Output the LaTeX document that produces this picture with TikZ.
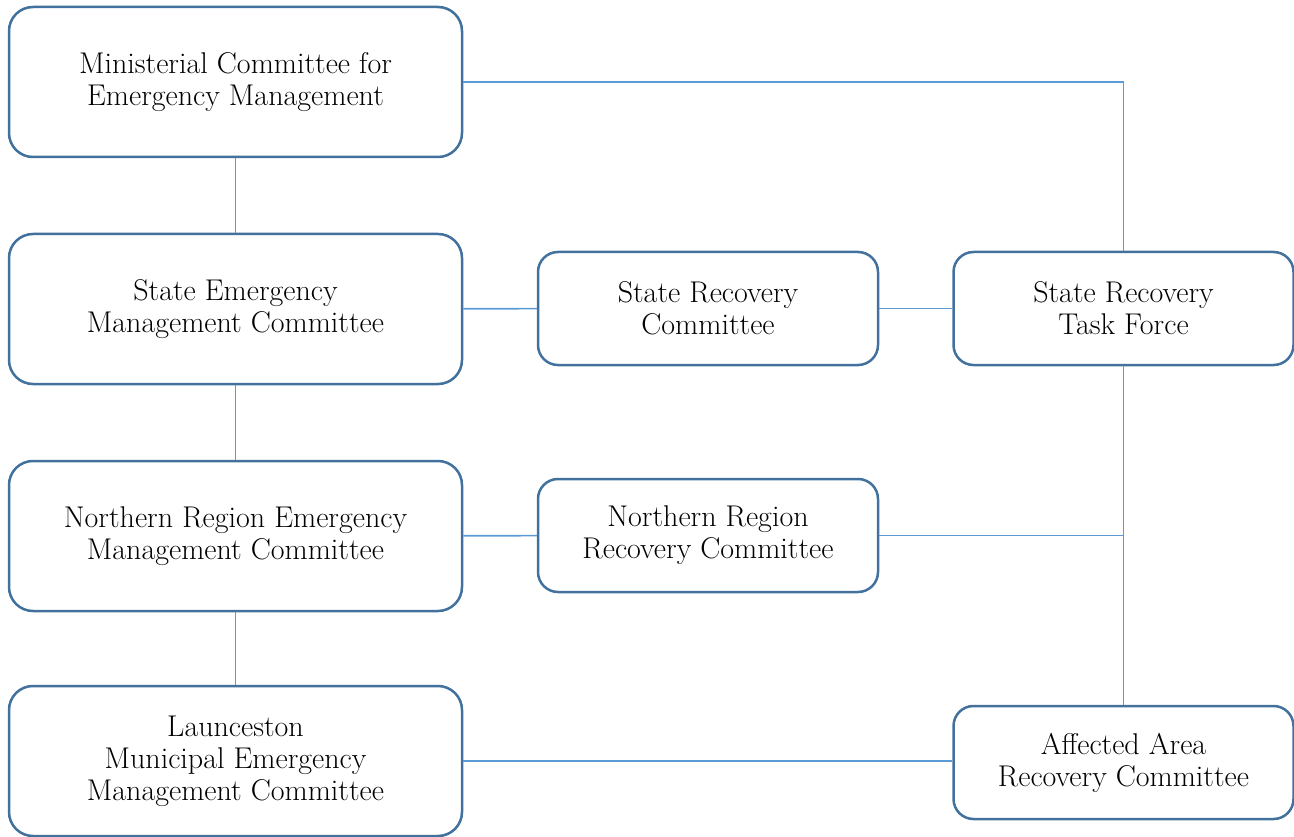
\documentclass[tikz,border=0pt]{standalone}
\usetikzlibrary{positioning}
\definecolor{boxblue}{HTML}{41719C}
\definecolor{lineblue}{HTML}{5B9BD5}
\begin{document}
\begin{tikzpicture}[x=1pt,y=-1pt,every node/.style={draw=boxblue,line width=2.5pt,rounded corners=24pt,align=center,inner sep=0pt,font=\fontsize{30}{32}\selectfont}]
        \tikzset{edge/.style = {draw=lineblue,line width=1.6pt}}
        \tikzset{big/.style = {minimum width=453pt,minimum height=150pt}}
        \tikzset{small/.style = {minimum width=340pt,minimum height=113pt,rounded corners=20pt}}
        \useasboundingbox (0,0) rectangle (1294,837);
        \node[big] (MC) at (235.5,82) {Ministerial Committee for\\Emergency Management};
        \node[big] (SEMC) at (235.5,309) {State Emergency\\Management Committee};
        \node[big] (NREMC) at (235.5,536) {Northern Region Emergency\\Management Committee};
        \node[big] (LMEMC) at (235.5,761) {Launceston\\Municipal Emergency\\Management Committee};
        
        \node[small] (SRC) at (708,308.5) {State Recovery\\Committee};
        \node[small] (SRTF) at (1123.5,308.5) {State Recovery\\Task Force};
        \node[small] (NRRC) at (708,535.5) {Northern Region\\Recovery Committee};
        \node[small] (AARC) at (1123.5,762.5) {Affected Area\\Recovery Committee};
        
        \draw[edge] (MC) to (SEMC);
        \draw[edge] (SEMC) to (NREMC);
        \draw[edge] (NREMC) to (LMEMC);
        
        \draw[edge] (SEMC) to (SRC);
        \draw[edge] (SRC) to (SRTF);
        \draw[edge] (NREMC) to (NRRC);
        \draw[edge] (MC.east) -| (SRTF.north);
        \draw[edge] (SRTF) to (AARC);
        \draw[edge] (NRRC.east) -- (NRRC.east -| SRTF.south);
        \draw[edge] (LMEMC.east) -- (LMEMC.east -| AARC.west);
\end{tikzpicture}
\end{document}
